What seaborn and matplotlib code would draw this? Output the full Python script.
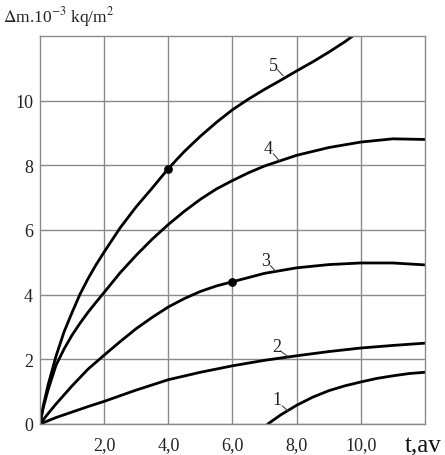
import numpy as np
import pandas as pd
import matplotlib
matplotlib.use('Agg')
import matplotlib.pyplot as plt
import seaborn as sns

# curves (t, delta m)
x1 = [7.1, 7.5, 8, 8.5, 9, 9.5, 10, 10.5, 11, 11.5, 12]
y1 = [0, 0.28, 0.58, 0.83, 1.03, 1.18, 1.3, 1.41, 1.49, 1.56, 1.6]

x2 = [0, 0.5, 1, 1.5, 2, 3, 4, 5, 6, 7, 8, 9, 10, 11, 12]
y2 = [0, 0.2, 0.37, 0.54, 0.7, 1.05, 1.37, 1.6, 1.8, 1.97, 2.11, 2.24, 2.35, 2.43, 2.5]

x3 = [0, 0.25, 0.5, 1, 1.5, 2, 2.5, 3, 3.5, 4, 4.5, 5, 5.5, 6, 7, 8, 9, 10, 11, 12]
y3 = [0, 0.32, 0.62, 1.18, 1.7, 2.13, 2.55, 2.95, 3.3, 3.62, 3.88, 4.1, 4.27, 4.4,
      4.66, 4.83, 4.93, 4.98, 4.98, 4.92]

x4 = [0, 0.1, 0.25, 0.5, 0.75, 1, 1.25, 1.5, 1.75, 2, 2.5, 3, 3.5, 4, 4.5, 5, 5.5,
      6, 6.5, 7, 8, 9, 10, 11, 12]
y4 = [0, 0.5, 1.05, 1.82, 2.32, 2.75, 3.12, 3.46, 3.77, 4.07, 4.68, 5.22, 5.72, 6.17,
      6.58, 6.95, 7.27, 7.53, 7.77, 7.98, 8.31, 8.55, 8.72, 8.82, 8.8]

x5 = [0, 0.1, 0.25, 0.5, 0.75, 1, 1.25, 1.5, 1.75, 2, 2.5, 3, 3.5, 4, 4.5, 5, 5.5,
      6, 6.5, 7, 7.5, 8, 8.5, 9, 9.5, 9.75]
y5 = [0, 0.55, 1.2, 2.1, 2.85, 3.45, 4.02, 4.5, 4.93, 5.32, 6.07, 6.72, 7.3, 7.9,
      8.43, 8.9, 9.33, 9.72, 10.05, 10.35, 10.63, 10.92, 11.2, 11.5, 11.82, 12.0]

# marked points
dot_x = [4, 6]
dot_y = [7.9, 4.4]

# curve labels and their leader lines
lab_text = ['1', '2', '3', '4', '5']
lab_x = [7.4, 7.37, 7.02, 7.12, 7.27]
lab_y = [0.77, 2.41, 5.05, 8.51, 11.08]
lead_x0 = [7.55, 7.49, 7.18, 7.27, 7.4]
lead_y0 = [0.56, 2.26, 4.9, 8.36, 10.96]
lead_x1 = [7.74, 7.71, 7.33, 7.46, 7.58]
lead_y1 = [0.40, 2.1, 4.74, 8.14, 10.77]

xticks = [2, 4, 6, 8, 10]
xticklabels = ['2,0', '4,0', '6,0', '8,0', '10,0']
yticks = [0, 2, 4, 6, 8, 10]

sns.set_style('white')
plt.rcParams['font.family'] = ['Liberation Serif', 'DejaVu Serif']
plt.rcParams['mathtext.fontset'] = 'stix'

fig = plt.figure(figsize=(4.45, 4.56), dpi=100)
ax = fig.add_axes([40 / 445, 31 / 456, 385 / 445, 388 / 456])

curves = [(x1, y1), (x2, y2), (x3, y3), (x4, y4), (x5, y5)]
for cx, cy in curves:
    d = pd.DataFrame({'t': cx, 'm': cy})
    sns.lineplot(data=d, x='t', y='m', ax=ax, color='black', linewidth=2,
                 sort=False, estimator=None)

ax.scatter(dot_x, dot_y, s=28, color='black', zorder=5)

for i in range(len(lab_text)):
    ax.text(lab_x[i], lab_y[i], lab_text[i], fontsize=13, ha='center',
            va='center', color='#222222')
    ax.plot([lead_x0[i], lead_x1[i]], [lead_y0[i], lead_y1[i]],
            color='#444444', linewidth=0.8)

ax.set_xlim(0, 12)
ax.set_ylim(0, 12)
ax.set_xticks(xticks)
ax.set_xticklabels(xticklabels)
ax.set_yticks(yticks)
ax.tick_params(axis='both', length=0, labelsize=13, colors='#222222')
ax.tick_params(axis='x', pad=9)
ax.tick_params(axis='y', pad=5)
ax.grid(True, color='#8a8a8a', linewidth=1)
for s in ax.spines.values():
    s.set_color('#8a8a8a')
    s.set_linewidth(1)
ax.set_xlabel('')
ax.set_ylabel('')

fig.text(3 / 445, 1 - 17 / 456, r'$\Delta$m.10$^{-3}$ kq/m$^{2}$', fontsize=12.5,
         ha='left', va='center', color='#222222')
fig.text(405 / 445, 1 - 446 / 456, 't,av', fontsize=18, ha='left',
         va='center', color='#111111')

fig.savefig('out.png', dpi=100)
